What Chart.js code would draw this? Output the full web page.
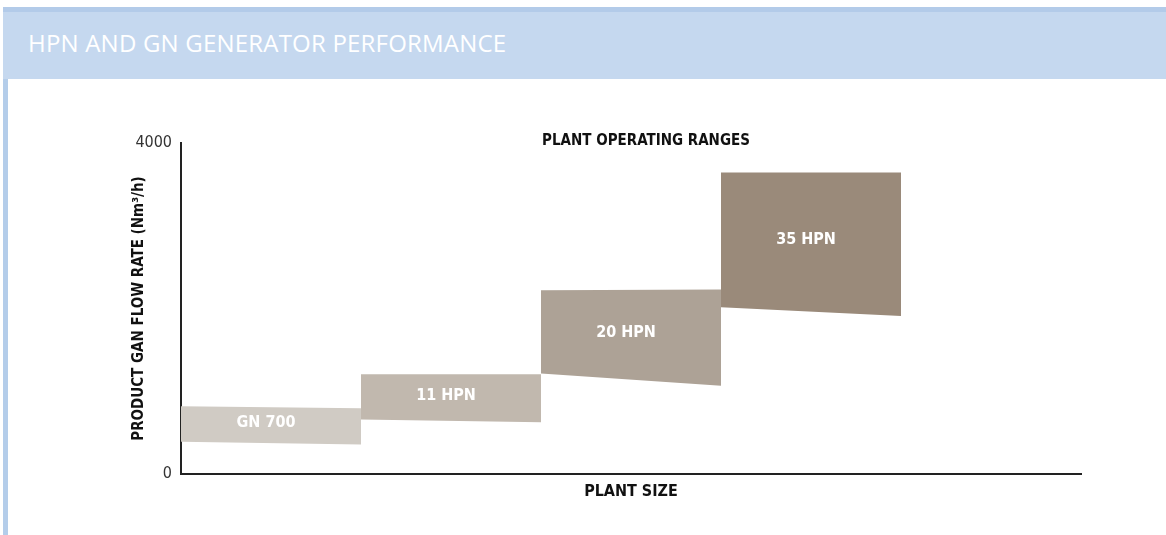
<!DOCTYPE html>
<html>
<head>
    <title>HPN and GN Generator Performance</title>
    <script src="https://cdn.jsdelivr.net/npm/chart.js@4.4.0/dist/chart.umd.min.js"></script>
    <style>
        body { margin: 0; background: #fff; width: 1166px; height: 535px; overflow: hidden; position: relative; }
        #band { position: absolute; left: 3px; top: 7px; width: 1163px; height: 67px; background: #c5d8ef; border-top: 5px solid #b3cbe9; }
        #band span { position: absolute; left: 25px; top: 14px; color: #fff; font-family: "Open Sans", sans-serif; font-size: 24px; letter-spacing: 0.2px; }
        #stripe { position: absolute; left: 3px; top: 79px; width: 5px; height: 456px; background: #b4cdea; }
        #wrap { position: absolute; left: 0; top: 0; width: 1166px; height: 535px; }
    </style>
</head>
<body>
    <div id="band"><span>HPN AND GN GENERATOR PERFORMANCE</span></div>
    <div id="stripe"></div>
    <div id="wrap"><canvas id="perf-chart" width="1166" height="535"></canvas></div>

    <script>
        // plant ranges, x = plant size slot, y = flow rate (Nm3/h)
        var plants = ['GN 700', '11 HPN', '20 HPN', '35 HPN'];
        var xStart = [0, 1, 2, 3];
        var xEnd = [1, 2, 3, 4];
        var topLeft = [820, 1205, 2220, 3645];
        var topRight = [795, 1205, 2230, 3645];
        var bottomLeft = [390, 660, 1215, 2015];
        var bottomRight = [355, 625, 1065, 1910];
        var colors = ['#d0cbc4', '#c1b8ae', '#ada296', '#9a8a7a'];
        var yTicks = [0, 4000];

        var font = '"DejaVu Sans Condensed", "Liberation Sans Narrow", Arial, sans-serif';

        var datasets = [];
        plants.forEach(function(name, i) {
            datasets.push({
                label: name,
                data: [{x: xStart[i], y: topLeft[i]}, {x: xEnd[i], y: topRight[i]}],
                showLine: true,
                borderWidth: 0,
                pointRadius: 0,
                backgroundColor: colors[i],
                fill: '+1'
            });
            datasets.push({
                label: name + ' min',
                data: [{x: xStart[i], y: bottomLeft[i]}, {x: xEnd[i], y: bottomRight[i]}],
                showLine: true,
                borderWidth: 0,
                pointRadius: 0,
                fill: false
            });
        });

        var textPlugin = {
            id: 'texts',
            afterDatasetsDraw: function(chart) {
                var c = chart.ctx, xs = chart.scales.x, ys = chart.scales.y;
                c.save();
                c.fillStyle = '#ffffff';
                c.font = 'bold 16px ' + font;
                c.textAlign = 'center';
                c.textBaseline = 'middle';
                plants.forEach(function(name, i) {
                    var xm = (xStart[i] + xEnd[i]) / 2;
                    var ym = (topLeft[i] + topRight[i] + bottomLeft[i] + bottomRight[i]) / 4;
                    c.fillText(name, xs.getPixelForValue(xm) - 5, ys.getPixelForValue(ym) - 2);
                });
                c.fillStyle = '#111';
                c.font = 'bold 15px ' + font;
                c.fillText('PLANT OPERATING RANGES', 646, 141);
                c.restore();
            }
        };

        new Chart(document.getElementById('perf-chart').getContext('2d'), {
            type: 'scatter',
            data: { datasets: datasets },
            plugins: [textPlugin],
            options: {
                responsive: false,
                animation: false,
                layout: { padding: { left: 126, right: 85, top: 143, bottom: 34 } },
                plugins: { legend: { display: false }, tooltip: { enabled: false }, title: { display: false } },
                scales: {
                    x: {
                        type: 'linear', min: 0, max: 5,
                        grid: { display: false },
                        border: { display: true, color: '#222', width: 2 },
                        ticks: { display: false },
                        title: { display: true, text: 'PLANT SIZE', color: '#111', font: { family: font, size: 16, weight: 'bold' }, padding: { top: 4, bottom: 0 } },
                        afterFit: function(s) { s.height = 27; }
                    },
                    y: {
                        min: 0, max: 4000,
                        afterBuildTicks: function(s) { s.ticks = yTicks.map(function(v) { return {value: v}; }); },
                        grid: { display: false, drawTicks: false },
                        border: { display: true, color: '#222', width: 2 },
                        ticks: { color: '#333', padding: 9, font: { family: font, size: 16 }, callback: function(v) { return String(v); } },
                        title: { display: true, text: 'PRODUCT GAN FLOW RATE (Nm³/h)', color: '#111', font: { family: font, size: 15, weight: 'bold' }, padding: { bottom: 0 } },
                        afterFit: function(s) { s.width = 55; }
                    }
                }
            }
        });
    </script>
</body>
</html>
